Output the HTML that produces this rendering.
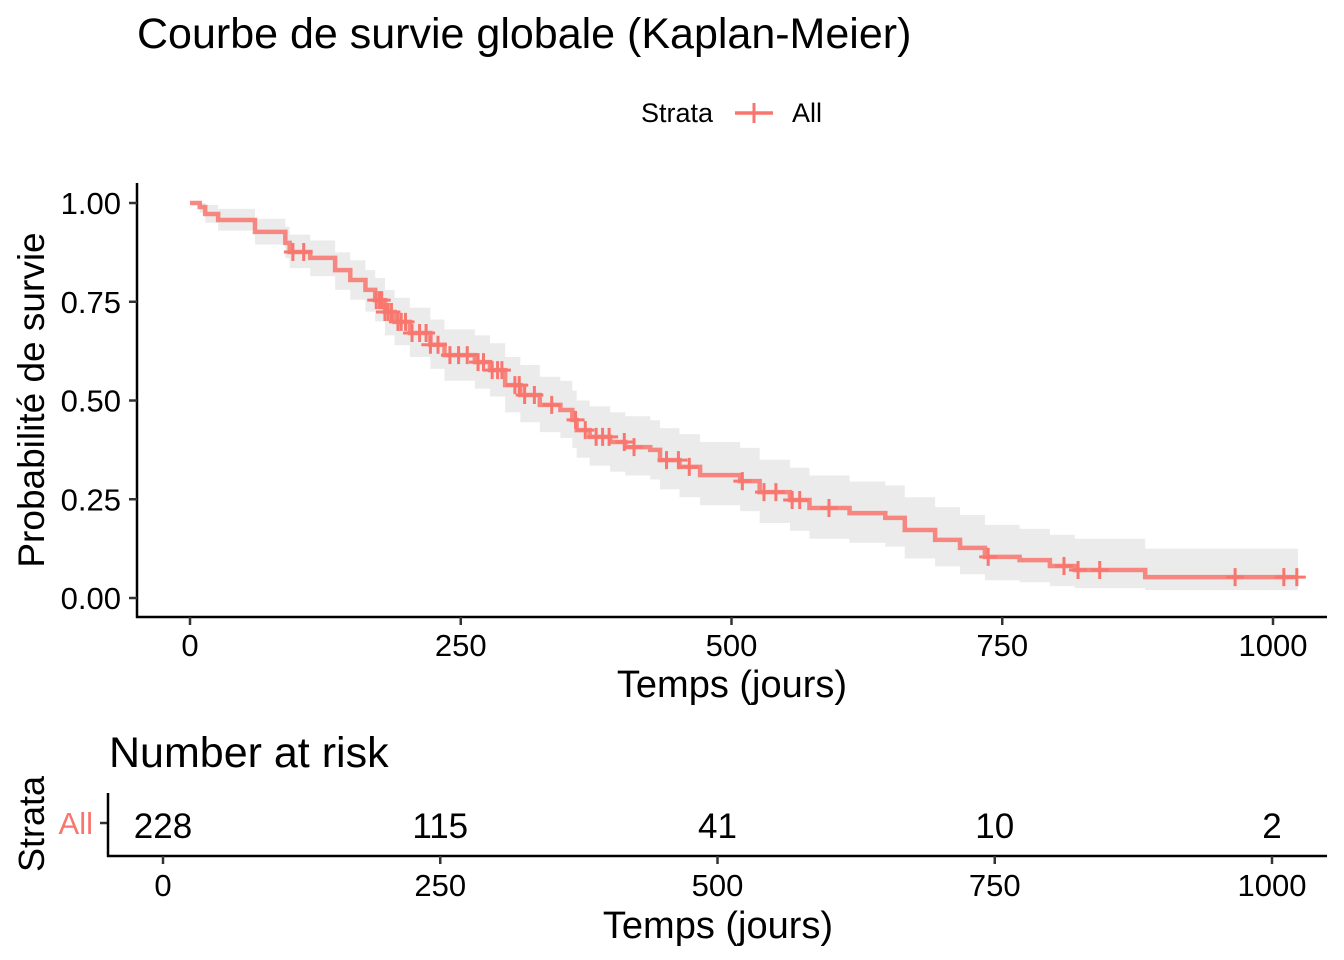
<!DOCTYPE html>
<html><head><meta charset="utf-8"><style>
body{margin:0;background:#fff}
svg{display:block;font-family:"Liberation Sans",Arial,sans-serif}
</style></head><body>
<svg id="c" width="1344" height="960" viewBox="0 0 1344 960">
<text x="137" y="48" font-size="43">Courbe de survie globale (Kaplan-Meier)</text>
<g>
<text x="641" y="122" font-size="27">Strata</text>
<line x1="735" y1="113" x2="773" y2="113" stroke="#F8766D" stroke-width="3.5"/>
<line x1="754" y1="103" x2="754" y2="123" stroke="#F8766D" stroke-width="3"/>
<text x="792" y="122" font-size="27">All</text>
</g>
<g id="plot"></g>
<line x1="137" y1="183" x2="137" y2="618" stroke="#000" stroke-width="2.5"/>
<line x1="136" y1="617" x2="1327" y2="617" stroke="#000" stroke-width="2.5"/>
<g id="yt"></g>
<g id="xt"></g>
<text x="732" y="697" font-size="38" text-anchor="middle">Temps (jours)</text>
<text transform="translate(44,400) rotate(-90)" font-size="37" text-anchor="middle">Probabilité de survie</text>
<text x="109" y="767" font-size="43">Number at risk</text>
<text transform="translate(44,824) rotate(-90)" font-size="36" text-anchor="middle">Strata</text>
<text x="93" y="834" font-size="31" fill="#F8766D" text-anchor="end">All</text>
<line x1="100" y1="823" x2="108" y2="823" stroke="#333" stroke-width="2.5"/>
<line x1="108" y1="793" x2="108" y2="857" stroke="#000" stroke-width="2.5"/>
<line x1="107" y1="856" x2="1327" y2="856" stroke="#000" stroke-width="2.5"/>
<g id="risk"></g>
<text x="718" y="938" font-size="38" text-anchor="middle">Temps (jours)</text>
</svg>
<script>
const times=[0,9,14,26,60,88,92,111,134,148,162,171,180,189,203,222,235,263,277,291,305,323,342,353,357,369,388,402,425,434,452,471,508,526,554,572,609,642,660,688,711,734,766,794,817,882];
const surv=[1,0.99,0.972,0.957,0.927,0.899,0.876,0.861,0.830,0.805,0.780,0.754,0.724,0.699,0.671,0.641,0.615,0.597,0.577,0.539,0.514,0.489,0.476,0.451,0.425,0.408,0.395,0.382,0.375,0.349,0.332,0.311,0.296,0.268,0.248,0.228,0.215,0.203,0.172,0.147,0.127,0.104,0.096,0.081,0.071,0.053];
const lower=[1,0.975,0.95,0.93,0.895,0.86,0.835,0.815,0.78,0.755,0.725,0.70,0.665,0.64,0.61,0.58,0.55,0.53,0.51,0.47,0.445,0.42,0.405,0.38,0.355,0.335,0.32,0.31,0.30,0.275,0.255,0.235,0.22,0.19,0.17,0.15,0.14,0.13,0.10,0.08,0.06,0.045,0.04,0.03,0.025,0.02];
const upper=[1,1,0.995,0.985,0.96,0.94,0.92,0.905,0.875,0.855,0.83,0.81,0.78,0.76,0.735,0.705,0.68,0.665,0.645,0.61,0.59,0.56,0.55,0.525,0.50,0.485,0.47,0.46,0.45,0.43,0.415,0.395,0.38,0.35,0.33,0.31,0.295,0.285,0.255,0.23,0.21,0.185,0.175,0.16,0.15,0.125];
const endTime=1023;
const censorTimes=[95,105,172,175,177,180,183,186,192,195,199,205,212,218,222,229,240,248,256,266,271,279,284,288,300,304,309,318,334,356,365,375,381,387,401,410,440,451,461,510,530,541,556,563,590,737,807,820,840,965,1010,1022];
const yTicks=[0,0.25,0.5,0.75,1];
const yTickLabels=["0.00","0.25","0.50","0.75","1.00"];
const xTicks=[0,250,500,750,1000];
const riskCounts=[228,115,41,10,2];
const NS="http://www.w3.org/2000/svg";
const X=t=>190+t*1.083, Y=s=>598-s*395, RX=t=>163+t*1.109;
function mk(tag,attrs,parent){const e=document.createElementNS(NS,tag);for(const k in attrs)e.setAttribute(k,attrs[k]);parent.appendChild(e);return e;}
const plot=document.getElementById('plot');
function stepAt(arr,t){let v=arr[0];for(let i=0;i<times.length;i++){if(times[i]<=t)v=arr[i];}return v;}
let up="",lo="";
for(let i=0;i<times.length;i++){const t0=X(times[i]),t1=X(i+1<times.length?times[i+1]:endTime);
 up+=(i?"L":"M")+t0+","+Y(upper[i])+"L"+t1+","+Y(upper[i]);
}
for(let i=times.length-1;i>=0;i--){const t0=X(times[i]),t1=X(i+1<times.length?times[i+1]:endTime);
 lo+="L"+t1+","+Y(lower[i])+"L"+t0+","+Y(lower[i]);}
const band=mk('path',{d:up+lo+"Z",fill:"#ebebeb"},plot);


let d="";
for(let i=0;i<times.length;i++){const t0=X(times[i]),t1=X(i+1<times.length?times[i+1]:endTime);
 d+=(i?"L":"M")+t0+","+Y(surv[i])+"L"+t1+","+Y(surv[i]);}
const line=mk('path',{d:d,fill:"none",stroke:"#F8766D","stroke-width":4.5,"stroke-opacity":0.85},plot);


censorTimes.forEach(t=>{const cx=X(t),cy=Y(stepAt(surv,t));
 const g=mk('path',{d:`M${cx-9},${cy}H${cx+9}M${cx},${cy-9}V${cy+9}`,stroke:"#F8766D","stroke-width":3},plot);
 
 
});
const yt=document.getElementById('yt');
yTicks.forEach((v,i)=>{mk('line',{x1:129,x2:137,y1:Y(v),y2:Y(v),stroke:"#333","stroke-width":2.5},yt);
 const t=mk('text',{x:121,y:Y(v)+11,"font-size":31,"text-anchor":"end"},yt);t.textContent=yTickLabels[i];
 
 });
const xt=document.getElementById('xt');
xTicks.forEach(v=>{mk('line',{x1:X(v),x2:X(v),y1:617,y2:625,stroke:"#333","stroke-width":2.5},xt);
 const t=mk('text',{x:X(v),y:656,"font-size":31,"text-anchor":"middle"},xt);t.textContent=v;
 
 });
const risk=document.getElementById('risk');
xTicks.forEach((v,i)=>{mk('line',{x1:RX(v),x2:RX(v),y1:856,y2:864,stroke:"#333","stroke-width":2.5},risk);
 const t=mk('text',{x:RX(v),y:896,"font-size":31,"text-anchor":"middle"},risk);t.textContent=v;
 
 
 const n=mk('text',{x:RX(v),y:838,"font-size":35,"text-anchor":"middle"},risk);n.textContent=riskCounts[i];
 
 });
</script>
</body></html>
